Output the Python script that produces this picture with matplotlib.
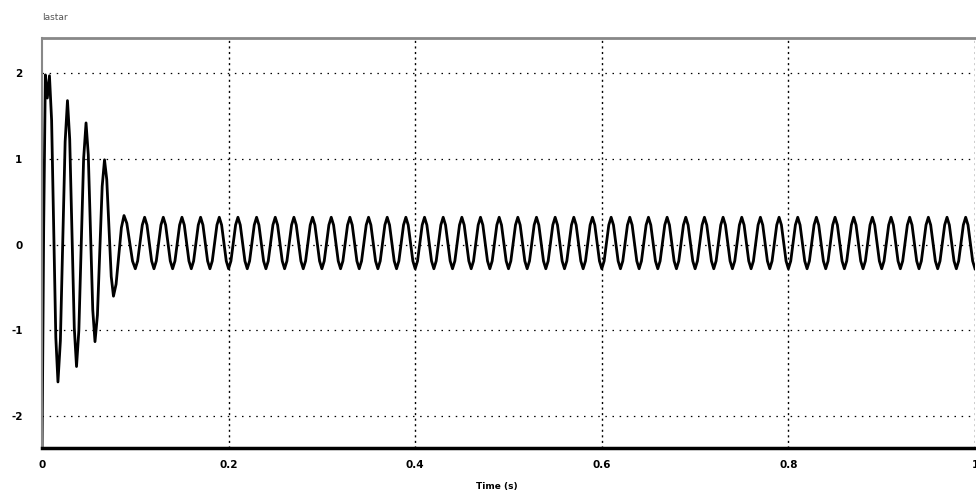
import numpy as np
import matplotlib
matplotlib.use('Agg')
import matplotlib.pyplot as plt

# 起动过程（读图得到的极值及中间点）
t_start = [0.0, 0.0018, 0.0036, 0.0057, 0.0080,
           0.0103, 0.0125, 0.0148, 0.0171,
           0.0197, 0.0222, 0.0248, 0.0273,
           0.0297, 0.0321, 0.0346, 0.0370,
           0.0395, 0.0421, 0.0446, 0.0472,
           0.0496, 0.0520, 0.0544, 0.0568,
           0.0594, 0.0619, 0.0645, 0.0670,
           0.0694, 0.0718, 0.0742, 0.0766,
           0.0794, 0.0822, 0.0851, 0.0879,
           0.0909, 0.0940, 0.0970]
v_start = [-2.5, 0.2, 1.98, 1.71, 1.97,
           1.45, 0.19, -1.08, -1.60,
           -1.12, 0.04, 1.20, 1.68,
           1.23, 0.13, -0.97, -1.42,
           -1.00, 0.00, 1.00, 1.42,
           1.05, 0.145, -0.76, -1.13,
           -0.82, -0.07, 0.68, 0.99,
           0.76, 0.195, -0.37, -0.60,
           -0.46, -0.13, 0.20, 0.34,
           0.25, 0.03, -0.19]

# 稳态：50 Hz 一个周期的采样值（步长 0.0025 s，从波谷开始）
cycle = [-0.28, -0.19, 0.02, 0.23, 0.32, 0.23, 0.02, -0.19]
n_cycles = 45
dt = 0.0025

t_ss = 0.1 + dt * np.arange(n_cycles * len(cycle) + 1)
v_ss = list(np.tile(cycle, n_cycles)) + [cycle[0]]

t = np.concatenate([t_start, t_ss])
v = np.concatenate([v_start, v_ss])

xticks = [0, 0.2, 0.4, 0.6, 0.8, 1.0]
xlabels = ['0', '0.2', '0.4', '0.6', '0.8', '1']
yticks = [-2, -1, 0, 1, 2]
ylabels = ['-2', '-1', '0', '1', '2']

fig = plt.figure(figsize=(9.76, 4.96), dpi=100)
ax = fig.add_axes([42 / 976, 1 - 448 / 496, 933 / 976, (448 - 38) / 496])

ax.plot(t, v, color='black', linewidth=2.0)

ax.set_xlim(0, 1.0)
ax.set_ylim(-2.37, 2.41)

# 网格线（点线）
for yy in yticks:
    ax.axhline(yy, color='black', linewidth=0.9, linestyle=(0, (1.2, 4.5)), zorder=0)
for xx in xticks[1:]:
    ax.axvline(xx, color='black', linewidth=1.0, linestyle=(0, (1.5, 2.5)), zorder=0)

ax.set_xticks(xticks)
ax.set_xticklabels(xlabels, fontsize=7.5, fontweight='bold')
ax.set_yticks(yticks)
ax.set_yticklabels(ylabels, fontsize=7.5, fontweight='bold')
ax.tick_params(axis='x', length=0, pad=9)
ax.tick_params(axis='y', length=0, pad=14)

ax.spines['right'].set_visible(False)
ax.spines['top'].set_color('#888888')
ax.spines['top'].set_linewidth(2)
ax.spines['left'].set_color('#888888')
ax.spines['left'].set_linewidth(1.5)
ax.spines['bottom'].set_color('black')
ax.spines['bottom'].set_linewidth(2.5)

fig.text(42 / 976, 1 - 18 / 496, 'Iastar', fontsize=6.5, color='#555555',
         ha='left', va='center')
fig.text(497 / 976, 1 - 487 / 496, 'Time (s)', fontsize=6.5, fontweight='bold',
         ha='center', va='center')

fig.savefig('out.png', dpi=100, facecolor='white')
